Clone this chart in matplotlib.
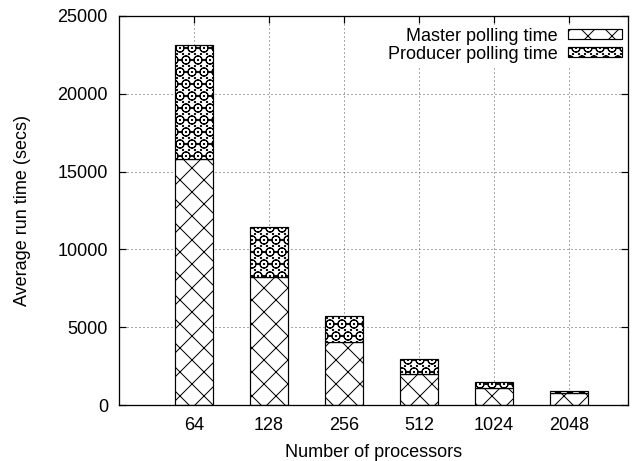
import matplotlib
matplotlib.use("Agg")
import matplotlib.pyplot as plt
import numpy as np

# drawn at 72 dpi so that 1 pt = 1 px and the hatch spacing matches
plt.rcParams['font.family'] = ['Liberation Sans', 'DejaVu Sans']
plt.rcParams['hatch.linewidth'] = 1.0

processors = ["64", "128", "256", "512", "1024", "2048"]
master_time = [15800, 8250, 4040, 2000, 1120, 750]
producer_time = [7330, 3200, 1650, 945, 385, 130]

x = np.arange(len(processors))
fs = 18

fig = plt.figure(figsize=(644 / 72, 461 / 72), dpi=72)
ax = fig.add_axes([119 / 644, 1 - 405 / 461, (628 - 119) / 644, (405 - 16) / 461])

ax.bar(x, master_time, width=0.5, color="white", edgecolor="black",
       linewidth=1.2, hatch="x", label="Master polling time", zorder=3)
ax.bar(x, producer_time, width=0.5, bottom=master_time, color="white",
       edgecolor="black", linewidth=1.2, hatch="O..",
       label="Producer polling time", zorder=3)

ax.set_xlim(-1, 5.79)
ax.set_ylim(0, 25000)
ax.set_xticks(x)
ax.set_xticklabels(processors)
ax.set_yticks(range(0, 25001, 5000))
ax.tick_params(direction="in", top=True, right=True, length=7, width=1.2,
               labelsize=fs)
ax.tick_params(axis="x", pad=12)
ax.tick_params(axis="y", pad=11)
ax.grid(True, linestyle=(0, (1, 3)), color="#555555", linewidth=1.0, zorder=0)
for s in ax.spines.values():
    s.set_linewidth(1.3)
    s.set_zorder(5)

ax.set_xlabel("Number of processors", fontsize=fs, labelpad=10)
ax.set_ylabel("Average run time (secs)", fontsize=fs, labelpad=26)

# white key box hides the grid behind it, like the original
leg = ax.legend(loc="upper right", bbox_to_anchor=(1 - 3 / 509, 1 - 9 / 389),
                frameon=True, markerfirst=False,
                fontsize=fs, handlelength=3.0, handleheight=0.45,
                labelspacing=0.05, borderaxespad=0.0, borderpad=0.15,
                handletextpad=0.6, facecolor="white", edgecolor="white",
                framealpha=1.0, fancybox=False)
leg.set_zorder(4)

fig.savefig("out.png", dpi=72)
